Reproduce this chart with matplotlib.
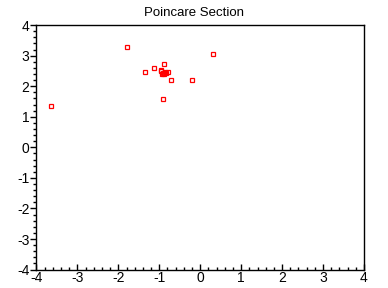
import matplotlib
matplotlib.use("Agg")
import matplotlib.pyplot as plt
from matplotlib.ticker import AutoMinorLocator

plt.rcParams['font.family'] = ['Liberation Sans', 'DejaVu Sans']
plt.rcParams['axes.unicode_minus'] = False

# points of the section
xs = [-1.78, 0.32, -3.64, -1.34, -1.12, -0.88, -0.95, -0.78, -0.83, -0.71, -0.19, -0.90,
      -0.947, -0.91, -0.886, -0.849, -0.935]
ys = [3.27, 3.04, 1.34, 2.45, 2.58, 2.71, 2.52, 2.45, 2.42, 2.19, 2.19, 1.57,
      2.495, 2.446, 2.414, 2.463, 2.414]

ticks = [-4, -3, -2, -1, 0, 1, 2, 3, 4]

fig = plt.figure(figsize=(3.88, 2.88), dpi=100)
ax = fig.add_axes([0.094, 0.064, 0.844, 0.849])

ax.plot(xs, ys, linestyle='none', marker='s', markersize=3.3,
        markerfacecolor='none', markeredgecolor='red', markeredgewidth=0.9)

ax.set_xlim(-4, 4)
ax.set_ylim(-4, 4)
ax.set_xticks(ticks)
ax.set_yticks(ticks)
ax.xaxis.set_minor_locator(AutoMinorLocator(5))
ax.yaxis.set_minor_locator(AutoMinorLocator(5))

ax.tick_params(axis='x', which='major', direction='in', length=4, width=1,
               labelsize=10, pad=1)
ax.tick_params(axis='x', which='minor', direction='in', length=2, width=1)
ax.tick_params(axis='y', which='major', direction='out', length=4, width=1,
               labelsize=10, pad=1)
ax.tick_params(axis='y', which='minor', direction='out', length=2, width=1)

for s in ax.spines.values():
    s.set_linewidth(1)

fig.text(0.5, 0.975, "Poincare Section", ha='center', va='top', fontsize=9.5)

fig.savefig("out.png", dpi=100)
